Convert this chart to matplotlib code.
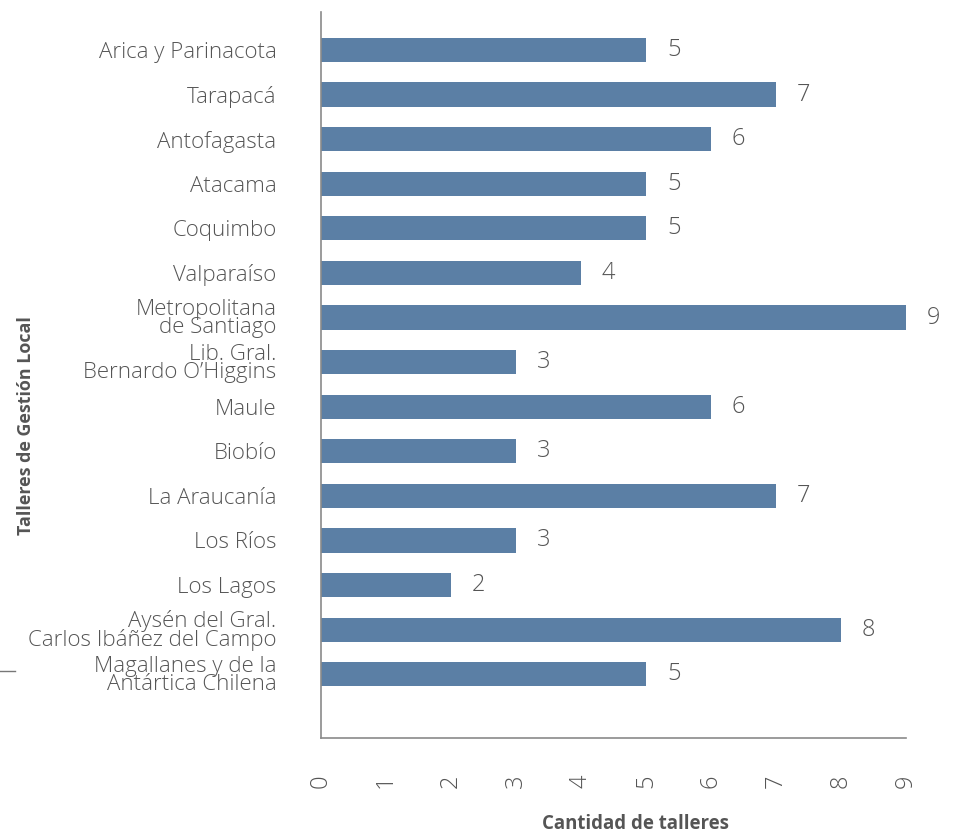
import matplotlib
matplotlib.use("Agg")
import matplotlib.pyplot as plt
from matplotlib.lines import Line2D

regiones = [
    "Arica y Parinacota",
    "Tarapacá",
    "Antofagasta",
    "Atacama",
    "Coquimbo",
    "Valparaíso",
    "Metropolitana\nde Santiago",
    "Lib. Gral.\nBernardo O’Higgins",
    "Maule",
    "Biobío",
    "La Araucanía",
    "Los Ríos",
    "Los Lagos",
    "Aysén del Gral.\nCarlos Ibáñez del Campo",
    "Magallanes y de la\nAntártica Chilena",
]
talleres = [5, 7, 6, 5, 5, 4, 9, 3, 6, 3, 7, 3, 2, 8, 5]
ticks_x = list(range(0, 10))

bar_color = "#5b7fa5"
text_color = "#555555"
spine_color = "#8a8a8a"
font = "Open Sans"

fig = plt.figure(figsize=(9.55, 8.36), dpi=100)
ax = fig.add_axes([0.3361, 0.1172, 0.6126, 0.8684])

pos = list(range(len(regiones)))
ax.barh(pos, talleres, height=0.54, color=bar_color)

for p, v in zip(pos, talleres):
    ax.annotate(str(v), xy=(v, p), xytext=(15, 0), textcoords="offset points",
                ha="left", va="center", fontsize=17, color=text_color,
                family=font, weight="light")

ax.set_xlim(0, 9)
ax.set_ylim(15.43, -0.85)
ax.set_yticks(pos)
ax.set_yticklabels(regiones, fontsize=16, color=text_color, family=font,
                   weight="light", linespacing=0.82)
ax.set_xticks(ticks_x)
ax.set_xticklabels([str(t) for t in ticks_x], rotation=90, fontsize=17,
                   color=text_color, family=font, weight="light")
ax.tick_params(axis="y", length=0, pad=32)
ax.tick_params(axis="x", length=0, pad=26)

for s in ["top", "right"]:
    ax.spines[s].set_visible(False)
for s in ["left", "bottom"]:
    ax.spines[s].set_color(spine_color)
    ax.spines[s].set_linewidth(1.2)

ax.set_xlabel("Cantidad de talleres", fontsize=13.4, color=text_color,
              family=font, weight="bold", va="center")
ax.xaxis.set_label_coords(0.537, -0.118)
fig.text(0.027, 0.491, "Talleres de Gestión Local", rotation=90, ha="center",
         va="center", fontsize=12.9, color=text_color, family=font, weight="bold")

# small stray tick mark at the left edge
fig.add_artist(Line2D([0.0, 0.016], [0.197, 0.197], color="#777777", lw=1.0))

fig.savefig("out.png", dpi=100)
